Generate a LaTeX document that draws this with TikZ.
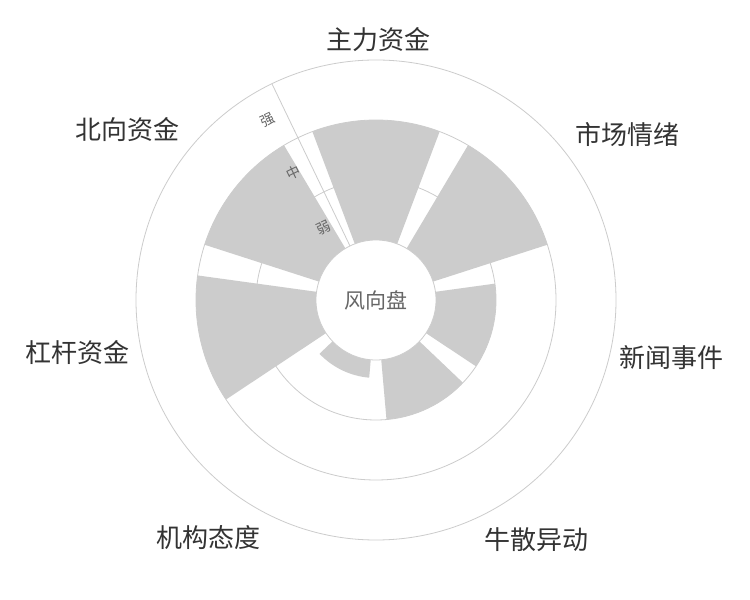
\documentclass[tikz,border=0pt]{standalone}
\usepackage{fontspec}
\setmainfont{Noto Sans CJK SC}
\begin{document}
\begin{tikzpicture}[x=1pt,y=1pt,
  grid/.style={draw=black!20,line width=0.8pt},
  bar/.style={fill=black!20},
  cat/.style={text=black!80,font=\fontsize{26}{28}\selectfont,inner sep=0pt},
  lvl/.style={text=black!60,font=\fontsize{14}{16}\selectfont,inner sep=0pt,rotate=25.7}]
\useasboundingbox (0,0) rectangle (750,600);
\fill[white] (0,0) rectangle (750,600);
\begin{scope}[shift={(376,300)}]
  \foreach \r in {120,180,240} \draw[grid] (0,0) circle[radius=\r];
  \draw[grid] (115.7:60) -- (115.7:240);
  \foreach \k/\r in {0/180,1/180,2/120,3/120,4/78,5/180,6/180}{
    \pgfmathsetmacro\c{90-51.4286*\k}
    \pgfmathsetmacro\a{\c-20.7}
    \pgfmathsetmacro\b{\c+20.7}
    \fill[bar] (\a:60) arc[start angle=\a,end angle=\b,radius=60]
      -- (\b:\r) arc[start angle=\b,end angle=\a,radius=\r] -- cycle;
  }
  \draw[grid,fill=white] (0,0) circle[radius=60];
  \node[text=black!60,font=\fontsize{21}{23}\selectfont] (hub) at (0,0) {风向盘};
  \node[lvl] (lw) at (126:89) {弱};
  \node[lvl] (lm) at (123:152) {中};
  \node[lvl] (ls) at (121:210) {强};
\end{scope}
\node[cat] (c0) at (378,560) {主力资金};
\node[cat] (c1) at (627,465) {市场情绪};
\node[cat] (c2) at (671,242) {新闻事件};
\node[cat] (c3) at (536,60) {牛散异动};
\node[cat] (c4) at (208,62) {机构态度};
\node[cat] (c5) at (77,247) {杠杆资金};
\node[cat] (c6) at (127,470) {北向资金};
\end{tikzpicture}
\end{document}
